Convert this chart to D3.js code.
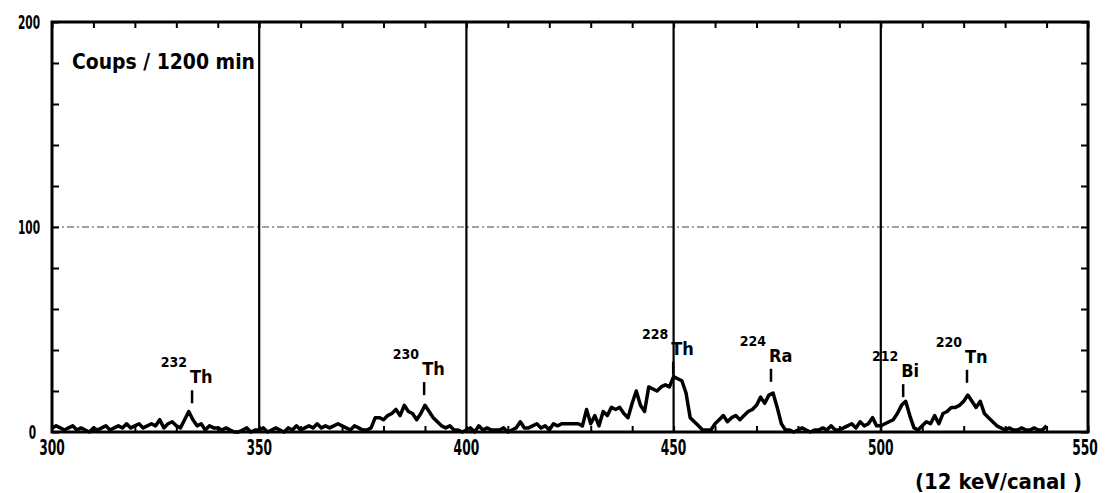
<!DOCTYPE html>
<html lang="fr">
<head>
<meta charset="utf-8">
<script src="https://d3js.org/d3.v7.min.js"></script>
<style>
  body { margin: 0; background: #fff; }
  text { font-family: "Liberation Sans Narrow", "DejaVu Sans Condensed", sans-serif; font-weight: bold; fill: #000; }
</style>
</head>
<body>
<svg width="1107" height="493"></svg>
<script>
// channel 300..540, counts per channel
var firstChannel = 300;
var counts = [
  2,3,2,1,2,3,1,2,1,0, 2,1,2,3,1,2,3,2,4,2, 3,4,2,3,4,3,6,2,4,5, 3,2,6,10,6,3,4,1,3,2, 2,1,2,1,0,0,1,2,0,1,
  1,2,0,1,2,1,0,2,1,3, 1,2,3,2,4,2,3,2,3,4, 3,2,1,3,2,1,1,2,7,7, 6,8,9,11,8,13,10,9,6,9, 13,10,7,5,3,2,3,1,1,0,
  1,2,0,3,1,2,1,1,1,2, 0,1,2,5,2,2,3,4,2,3, 1,4,3,4,4,4,4,4,3,11, 4,8,3,10,8,12,11,12,9,7, 14,20,13,10,22,21,20,22,23,22,
  27,26,25,19,7,5,3,1,1,1, 4,6,8,5,7,8,6,8,10,11, 13,17,14,18,19,12,4,1,1,0, 1,2,1,0,1,1,2,1,3,1, 1,2,3,4,2,5,3,4,7,3,
  3,4,5,6,9,13,15,8,2,1, 3,5,4,8,4,9,10,12,12,13, 15,18,15,12,15,9,7,5,3,2, 1,2,1,1,2,1,1,2,1,1, 3
];
var xLabels = [300, 350, 400, 450, 500, 550];
var yLabels = [0, 100, 200];
var gridChannels = [350, 400, 450, 500];
var isoMass    = ["232", "230", "228", "224", "212", "220"];
var isoElement = ["Th", "Th", "Th", "Ra", "Bi", "Tn"];
var isoChannel = [333.8, 389.8, 449.9, 473.5, 505.4, 520.8];
var isoCount   = [14, 18, 28, 24.5, 17, 24];

var svg = d3.select("svg");
var x = d3.scaleLinear().domain([300, 550]).range([52, 1088]);
var y = d3.scaleLinear().domain([0, 200]).range([432, 22]);

// horizontal grid at 100
svg.append("line")
  .attr("x1", x(300)).attr("x2", x(550)).attr("y1", y(100)).attr("y2", y(100))
  .attr("stroke", "#444").attr("stroke-width", 1.2).attr("stroke-dasharray", "7,3,2,3");

// vertical grid
svg.selectAll(".vgrid").data(gridChannels).enter().append("line")
  .attr("x1", d => x(d)).attr("x2", d => x(d)).attr("y1", y(200)).attr("y2", y(0))
  .attr("stroke", "#000").attr("stroke-width", 2.2);

// minor ticks on all four sides, pointing inward
var minorX = d3.range(300, 551, 10);
var minorY = d3.range(0, 201, 20);
function noLabels(g) { g.select(".domain").remove(); g.selectAll("text").remove(); g.selectAll("line").attr("stroke-width", 2); }
svg.append("g").attr("transform", "translate(0," + y(0) + ")")
  .call(d3.axisBottom(x).tickValues(minorX).tickSize(-6)).call(noLabels);
svg.append("g").attr("transform", "translate(0," + y(200) + ")")
  .call(d3.axisTop(x).tickValues(minorX).tickSize(-6)).call(noLabels);
svg.append("g").attr("transform", "translate(" + x(300) + ",0)")
  .call(d3.axisLeft(y).tickValues(minorY).tickSize(-7)).call(noLabels);
svg.append("g").attr("transform", "translate(" + x(550) + ",0)")
  .call(d3.axisRight(y).tickValues(minorY).tickSize(-7)).call(noLabels);

// frame
svg.append("rect")
  .attr("x", x(300)).attr("y", y(200)).attr("width", x(550) - x(300)).attr("height", y(0) - y(200))
  .attr("fill", "none").attr("stroke", "#000").attr("stroke-width", 3);

// spectrum
var line = d3.line().x((d, i) => x(firstChannel + i)).y(d => y(d));
svg.append("path").datum(counts)
  .attr("d", line).attr("fill", "none").attr("stroke", "#000")
  .attr("stroke-width", 3.5).attr("stroke-linejoin", "round");

// axis labels, squeezed horizontally like the condensed lettering of the original
svg.selectAll(".xl").data(xLabels).enter().append("text")
  .attr("transform", d => "translate(" + (d === 550 ? x(d) - 3 : x(d)) + ",455) scale(0.62,1)")
  .attr("text-anchor", "middle").attr("font-size", 22)
  .text(d => d);
svg.selectAll(".yl").data(yLabels).enter().append("text")
  .attr("transform", d => "translate(" + (d === 0 ? 36 : 40) + "," + (y(d) + 7) + ") scale(0.62,1)")
  .attr("text-anchor", "end").attr("font-size", 19)
  .text(d => d);

svg.append("text").attr("x", 72).attr("y", 69).attr("font-size", 21)
  .attr("textLength", 183).attr("lengthAdjust", "spacingAndGlyphs").text("Coups / 1200 min");
svg.append("text").attr("x", 915).attr("y", 489).attr("font-size", 21)
  .attr("textLength", 167).attr("lengthAdjust", "spacingAndGlyphs").text("(12 keV/canal )");

// isotope annotations
var iso = svg.selectAll(".iso").data(isoChannel).enter().append("g")
  .attr("transform", (d, i) => "translate(" + x(d) + "," + y(isoCount[i]) + ")");
iso.append("line").attr("x1", 0).attr("x2", 0).attr("y1", 0).attr("y2", -13)
  .attr("stroke", "#000").attr("stroke-width", 2.5);
iso.append("text").attr("x", -2).attr("y", -20).attr("font-size", 18)
  .text((d, i) => isoElement[i]);
iso.append("text").attr("x", -5).attr("y", -36).attr("font-size", 14).attr("text-anchor", "end")
  .text((d, i) => isoMass[i]);
</script>
</body>
</html>
